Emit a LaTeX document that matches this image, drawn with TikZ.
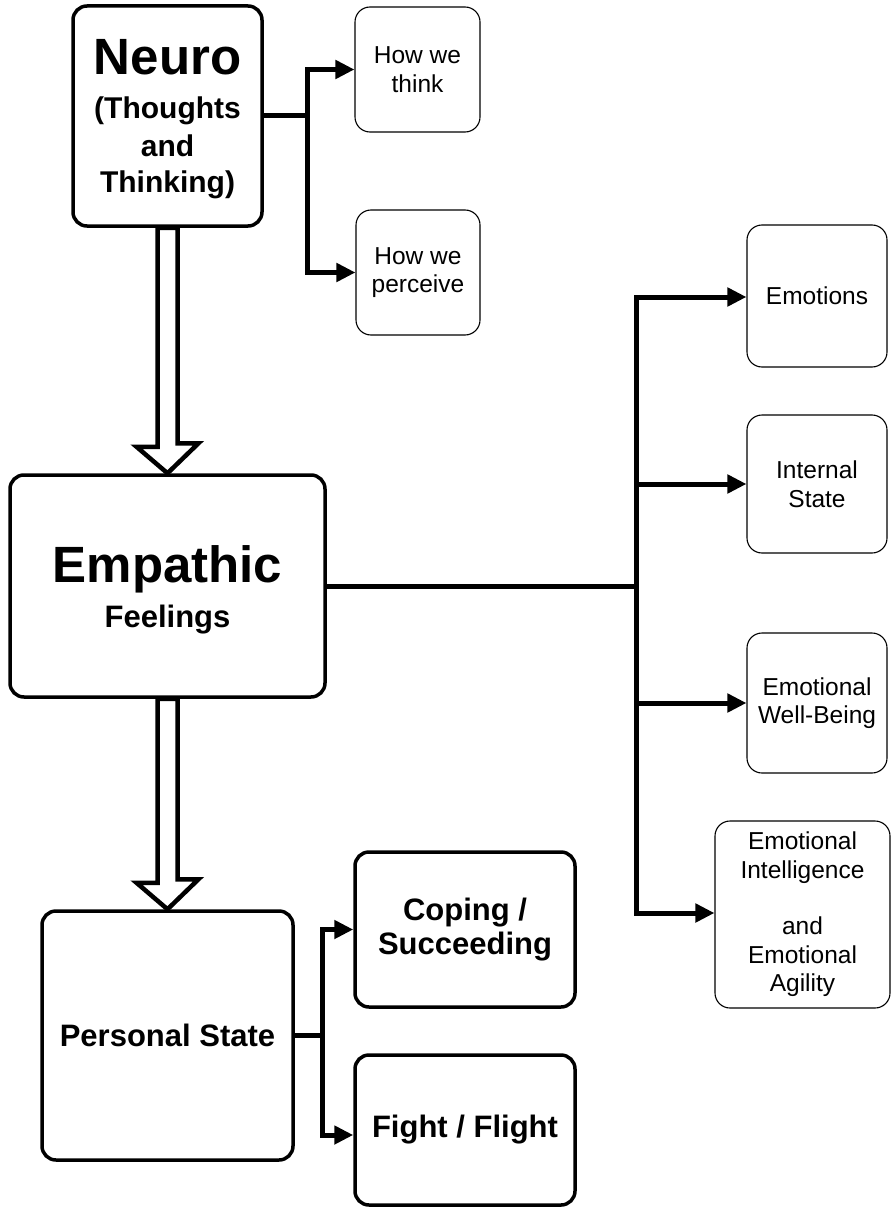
\documentclass[tikz,border=0pt]{standalone}
\usepackage{fontspec}
\setmainfont{Liberation Sans}
\usetikzlibrary{arrows.meta}
\begin{document}
\begin{tikzpicture}[x=1pt,y=-1pt,
  thickbox/.style={draw, line width=3.5pt, rounded corners=14pt, inner sep=0pt, align=center,
     font=\bfseries\fontsize{31}{34}\selectfont},
  thinbox/.style={draw, line width=1.1pt, rounded corners=15pt, inner sep=0pt, align=center,
     font=\fontsize{24.5}{28.5}\selectfont},
  conn/.style={line width=5pt, line join=miter},
  arr/.style={conn, -{Triangle[length=19pt,width=18pt]}},
  hollow/.style={draw, line width=4.5pt, fill=white, line join=miter},
  txt/.style={inner sep=0pt, anchor=base}]
\useasboundingbox (0,0) rectangle (891,1209);
\fill[white] (0,0) rectangle (891,1209);

% main boxes
\node[thickbox, minimum width=189, minimum height=220] (neuro) at (167.5,116) {};
\node[txt, font=\bfseries\fontsize{51}{51}\selectfont] (neuro1) at (167.5,75) {Neuro};
\node[txt, font=\bfseries\fontsize{30}{30}\selectfont] (neuro2) at (167.5,119) {(Thoughts};
\node[txt, font=\bfseries\fontsize{30}{30}\selectfont] (neuro3) at (167.5,157) {and};
\node[txt, font=\bfseries\fontsize{30}{30}\selectfont] (neuro4) at (167.5,193) {Thinking)};

\node[thickbox, minimum width=315, minimum height=222] (emp) at (167.5,586) {};
\node[txt, font=\bfseries\fontsize{51}{51}\selectfont] (emp1) at (167.5,582) {Empathic};
\node[txt, font=\bfseries\fontsize{31}{31}\selectfont] (emp2) at (167.5,627) {Feelings};

\node[thickbox, minimum width=251, minimum height=249] (pers) at (167.5,1035.5) {Personal State};
\node[thickbox, minimum width=220, minimum height=155] (coping) at (465,929.5) {Coping /\\Succeeding};
\node[thickbox, minimum width=220, minimum height=150] (fight) at (465,1130) {Fight / Flight};

% small boxes
\node[thinbox, minimum width=125, minimum height=125] (think) at (417.5,69.5) {How we\\think};
\node[thinbox, minimum width=124, minimum height=125] (perceive) at (418,272.5) {How we\\perceive};
\node[thinbox, minimum width=140, minimum height=142] (emo) at (817,296) {Emotions};
\node[thinbox, minimum width=140, minimum height=138] (internal) at (817,484) {Internal\\State};
\node[thinbox, minimum width=140, minimum height=140] (wellbeing) at (817,703) {Emotional\\Well-Being};
\node[thinbox, minimum width=175, minimum height=187] (ei) at (802.5,914.5) {Emotional\\Intelligence\\[28pt]and\\Emotional\\Agility};

% hollow arrows
\draw[hollow] ([xshift=-10pt]neuro.south) -- ++(0,219) -- ++(-21,0) -- (emp.north)
  -- ++(31,-30) -- ++(-21,0) -- ([xshift=10pt]neuro.south) -- cycle;
\draw[hollow] ([xshift=-10pt]emp.south) -- ++(0,184) -- ++(-21,0) -- (pers.north)
  -- ++(31,-30) -- ++(-21,0) -- ([xshift=10pt]emp.south) -- cycle;

% connectors
\coordinate (j1) at (307,116);
\draw[conn] (neuro.east) -- (j1);
\draw[arr] (j1) |- (think.west);
\draw[arr] (j1) |- (perceive.west);

\coordinate (j2) at (636,586);
\draw[conn] (emp.east) -- (j2);
\draw[arr] (j2) |- ([yshift=-1pt]emo.west);
\draw[arr] (j2) |- (internal.west);
\draw[arr] (j2) |- (wellbeing.west);
\draw[arr] (j2) |- ([yshift=1.5pt]ei.west);

\coordinate (j3) at (322,1035.5);
\draw[conn] (pers.east) -- (j3);
\draw[arr] (j3) |- (coping.west);
\draw[arr] (j3) |- ([yshift=-5pt]fight.west);
\end{tikzpicture}
\end{document}
